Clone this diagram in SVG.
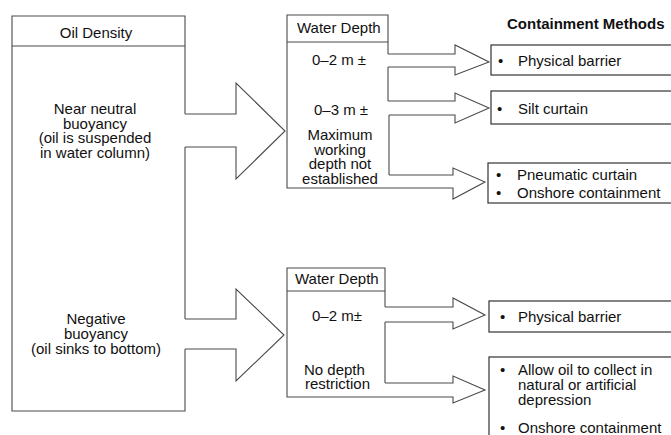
<svg xmlns="http://www.w3.org/2000/svg" width="671" height="435" viewBox="0 0 671 435">
<style>
  .ln { fill: none; stroke: #4a4a4a; stroke-width: 1.1; stroke-linejoin: miter; }
  .ar { fill: #fff; stroke: #4a4a4a; stroke-width: 1.1; stroke-linejoin: miter; }
  .bx { fill: #fff; stroke: #333; stroke-width: 1.2; }
  text { font-family: "Liberation Sans", Arial, sans-serif; font-size: 15px; fill: #111; }
  .c { text-anchor: middle; }
  .b { font-weight: bold; }
</style>
<rect width="671" height="435" fill="#fff"/>

<g id="connectors">
  <path class="ar" d="M185,114 H236 V83 L285,131 L236,179 V147 H185"/>
  <path class="ar" d="M185,319 H236 V289 L284,335 L236,381 V349 H185"/>
  <path class="ar" d="M388,54 H455 V45 L489,62 L455,75 V67 H388"/>
  <path class="ar" d="M388,101 H455 V93 L489,108 L455,123 V115 H389"/>
  <path class="ar" d="M389,175 H453 V168 L485,182 L453,199 V188 H389"/>
  <path class="ar" d="M385,307 H453 V298 L485,315 L453,329 V322 H385"/>
  <path class="ar" d="M385,383 H453 V376 L485,390 L453,403 V397 H385"/>
</g>

<g id="oil-density">
  <path class="ln" d="M185,114 V16 H12 V411 H185 V349 M185,319 V147 M12,46 H185"/>
  <text class="c" x="96" y="38">Oil Density</text>
  <text class="c" x="95" y="114">Near neutral</text>
  <text class="c" x="95" y="128.5">buoyancy</text>
  <text class="c" x="95" y="143">(oil is suspended</text>
  <text class="c" x="95" y="157.5">in water column)</text>
  <text class="c" x="96" y="324">Negative</text>
  <text class="c" x="96" y="339">buoyancy</text>
  <text class="c" x="96" y="354">(oil sinks to bottom)</text>
</g>

<g id="water-depth-upper">
  <path class="ln" d="M388,54 V15 H287 V188 H389 M388,67 V101 M389,115 V175 M287,42 H388"/>
  <text x="297" y="33">Water Depth</text>
  <text x="312" y="65">0–2 m ±</text>
  <text x="314" y="115">0–3 m ±</text>
  <text class="c" x="340" y="140">Maximum</text>
  <text class="c" x="340" y="154.5">working</text>
  <text class="c" x="340" y="169">depth not</text>
  <text class="c" x="340" y="183.5">established</text>
</g>

<g id="water-depth-lower">
  <path class="ln" d="M385,307 V268 H287 V397 H385 M385,322 V383 M287,291 H385"/>
  <text x="295" y="284">Water Depth</text>
  <text x="312" y="321">0–2 m±</text>
  <text x="304" y="375">No depth</text>
  <text x="305" y="388.5">restriction</text>
</g>

<g id="containment-title">
  <text class="b" x="507" y="29">Containment Methods</text>
</g>

<g id="method-physical-barrier-1">
  <rect class="bx" x="491" y="45" width="200" height="30"/>
  <text x="498" y="66">•</text>
  <text x="518" y="66">Physical barrier</text>
</g>

<g id="method-silt-curtain">
  <rect class="bx" x="491" y="91" width="200" height="33"/>
  <text x="497" y="114">•</text>
  <text x="518" y="114">Silt curtain</text>
</g>

<g id="method-pneumatic">
  <rect class="bx" x="488" y="163" width="200" height="40"/>
  <text x="496" y="180">•</text>
  <text x="517" y="180">Pneumatic curtain</text>
  <text x="496" y="198">•</text>
  <text x="517" y="198">Onshore containment</text>
</g>

<g id="method-physical-barrier-2">
  <rect class="bx" x="489" y="301" width="200" height="31"/>
  <text x="500" y="322">•</text>
  <text x="518" y="322">Physical barrier</text>
</g>

<g id="method-allow-collect">
  <rect class="bx" x="489" y="357" width="200" height="100"/>
  <text x="500" y="375">•</text>
  <text x="518" y="375">Allow oil to collect in</text>
  <text x="518" y="390">natural or artificial</text>
  <text x="518" y="405">depression</text>
  <text x="500" y="433">•</text>
  <text x="518" y="433">Onshore containment</text>
</g>
</svg>
